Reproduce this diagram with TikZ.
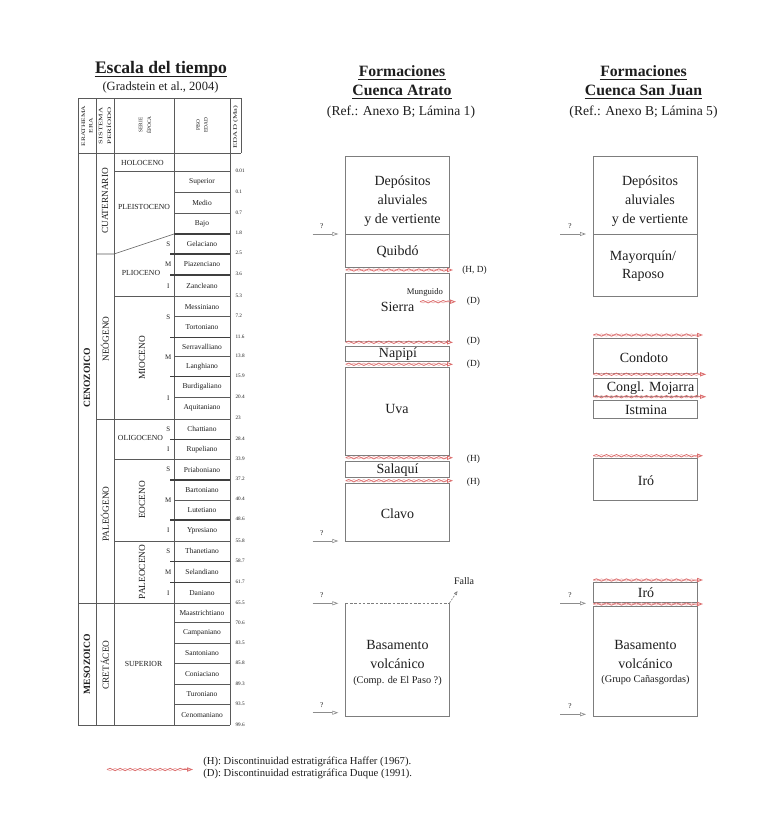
\documentclass[tikz,border=0pt]{standalone}
\usepackage{fontspec}
\setmainfont{Liberation Serif}
\usepackage{graphicx}
\usetikzlibrary{decorations.pathmorphing,arrows.meta}
\definecolor{txt}{RGB}{30,30,30}
\definecolor{tbl}{RGB}{90,90,90}
\definecolor{boxc}{RGB}{125,125,125}
\definecolor{wav}{RGB}{220,110,110}
\definecolor{wavl}{RGB}{238,180,180}
\definecolor{arr}{RGB}{140,140,140}
\begin{document}
\begin{tikzpicture}[x=0.75pt,y=-0.75pt,
 every node/.style={text=txt, inner sep=0pt},
 tl/.style={draw=tbl, line width=0.4pt},
 tk/.style={draw=tbl!70!black, line width=0.85pt},
 fb/.style={draw=boxc, line width=0.6pt},
 stg/.style={font=\fontsize{5.6}{6.5}\selectfont},
 smi/.style={font=\fontsize{5.2}{6}\selectfont},
 age/.style={font=\fontsize{3.9}{4.5}\selectfont, anchor=west},
 epo/.style={font=\fontsize{5.8}{7}\selectfont},
 epv/.style={font=\fontsize{7}{8}\selectfont, rotate=90},
 per/.style={font=\fontsize{7}{8}\selectfont, rotate=90},
 era/.style={font=\bfseries\fontsize{7.2}{8}\selectfont, rotate=90},
 hdr/.style={font=\fontsize{4}{4.6}\selectfont, rotate=90},
 fm/.style={font=\fontsize{10.5}{14.25}\selectfont, align=center},
 fms/.style={font=\fontsize{7.7}{9}\selectfont},
 ttl/.style={font=\bfseries\fontsize{13.2}{15}\selectfont, anchor=base},
 ttlb/.style={font=\bfseries\fontsize{11.8}{14}\selectfont, anchor=base},
 sub/.style={font=\fontsize{10.2}{12}\selectfont, anchor=base},
 lab/.style={font=\fontsize{7}{8}\selectfont, anchor=west},
 leg/.style={font=\fontsize{8}{9.5}\selectfont, anchor=base west},
 qm/.style={font=\fontsize{5.5}{6}\selectfont},
 qa/.style={draw=arr, line width=0.5pt, -{Triangle[open,length=4.5pt,width=3pt]}},
 wv/.style={draw=wav, line width=0.6pt, decorate, decoration={snake, amplitude=0.9pt, segment length=7.5pt, post length=4.5pt}, -{Triangle[open,length=4.5pt,width=3.2pt]}},
 wv2/.style={draw=wavl, line width=0.5pt, decorate, decoration={snake, amplitude=-0.9pt, segment length=7.5pt, post length=1pt}, shorten >=4.5pt},
]
\fill[white] (0,0) rectangle (764,831);
\useasboundingbox (0,0) rectangle (764,831);

% ---------- titles ----------
\node[ttl] (tEsc) at (161,73.3) {Escala del tiempo};
\node[sub, font=\fontsize{9.4}{11}\selectfont] (tGra) at (160.5,90.5) {(Gradstein et al., 2004)};
\node[ttlb] (tFA1) at (402,77) {Formaciones};
\node[ttlb] (tFA2) at (402,95.5) {Cuenca Atrato};
\node[sub] (tRA) at (401,115.5) {(Ref.: Anexo B; Lámina 1)};
\node[ttlb] (tFS1) at (643.5,77) {Formaciones};
\node[ttlb] (tFS2) at (643.5,95.5) {Cuenca San Juan};
\node[sub] (tRS) at (643.5,115.5) {(Ref.: Anexo B; Lámina 5)};
\foreach \t in {tEsc,tFA1,tFA2,tFS1,tFS2}
  \draw[txt, line width=0.8pt] ([yshift=-2.2pt]\t.base west) -- ([yshift=-2.2pt]\t.base east);

% ---------- time scale table ----------
\foreach \xx in {78,96,114,174,230} \draw[tl] (\xx,98.3) -- (\xx,725);
\draw[tl] (241,98.3) -- (241,153.3);
\draw[tl] (78,98.3) -- (241,98.3);
\draw[tl] (78,153.3) -- (241,153.3);
\draw[tl] (78,603.3) -- (230,603.3);
\draw[tl] (78,725) -- (230,725);
\draw[tl] (96,419.3) -- (230,419.3);
\draw[tl] (96,254) -- (114,254) -- (174,234);
\foreach \yy in {171.7,296.7,459.3,541} \draw[tl] (114,\yy) -- (230,\yy);
\foreach \yy in {192.7,213.3,316.7,356.7,397.3,500,622.7,643.3,663.3,684,704.3} \draw[tl] (174,\yy) -- (230,\yy);
\draw[tk] (174,234) -- (230,234);
\foreach \yy in {254,275,337.7,376.7,439.3,480,520,561.7,582.3} \draw[tk] (170,\yy) -- (230,\yy);

% header
\node[hdr] (hEra) at (87,126) {\scalebox{1.4}[1]{\shortstack{ERATHEMA\\ERA}}};
\node[hdr] (hSis) at (105,126) {\scalebox{1.6}[1]{\shortstack{SISTEMA\\PERÍODO}}};
\node[hdr] (hSer) at (145,125) {\shortstack{SERIE\\ÉPOCA}};
\node[hdr] (hPis) at (202,125) {\shortstack{PISO\\EDAD}};
\node[hdr] (hEda) at (235.5,127) {\scalebox{1.6}[1]{EDAD (Ma)}};

% eras, periods
\node[era] (eCen) at (87,378) {CENOZOICO};
\node[era] (eMes) at (87,664) {MESOZOICO};
\node[per] (pCua) at (105,201) {CUATERNARIO};
\node[per] (pNeo) at (105,339) {NEÓGENO};
\node[per] (pPal) at (105,514) {PALEÓGENO};
\node[per] (pCre) at (105,665) {CRETÁCEO};

% epochs
\node[epo] (sHol) at (142.5,162.5) {HOLOCENO};
\node[epo] (sPle) at (144,206.7) {PLEISTOCENO};
\node[epo] (sPli) at (141,273.3) {PLIOCENO};
\node[epv] (sMio) at (142,358) {MIOCENO};
\node[epo] (sOli) at (140.5,438) {OLIGOCENO};
\node[epv] (sEoc) at (142,500) {EOCENO};
\node[epv] (sPal) at (142,572) {PALEOCENO};
\node[epo] (sSup) at (143.5,663.5) {SUPERIOR};

% S/M/I
\foreach \l/\yy [count=\i] in {S/244,M/264.5,I/285.8,S/317,M/357,I/398,S/429.3,I/449.3,S/469.7,M/500,I/530.5,S/551.3,M/572,I/592.8}
  \node[smi] (smi\i) at (168.3,\yy) {\l};

% stages
\foreach \nm/\yy [count=\i] in {Superior/182.2,Medio/203,Bajo/223.7,Gelaciano/244,Piazenciano/264.5,Zancleano/285.8,Messiniano/306.7,Tortoniano/327.2,Serravalliano/347.2,Langhiano/366.7,Burdigaliano/387,Aquitaniano/408.3,Chattiano/429.3,Rupeliano/449.3,Priaboniano/469.7,Bartoniano/490,Lutetiano/510,Ypresiano/530.5,Thanetiano/551.3,Selandiano/572,Daniano/592.8,Maastrichtiano/613,Campaniano/633,Santoniano/653.3,Coniaciano/673.7,Turoniano/694.2,Cenomaniano/714.7}
  \node[stg] (st\i) at (202,\yy) {\nm};

% ages
\foreach \a/\yy [count=\i] in {0.01/170.5,0.1/192,0.7/212.5,1.8/232.5,2.5/252.5,3.6/274,5.3/296,7.2/316,11.6/337,13.8/356,15.9/376,20.4/396.5,23/418,28.4/438.5,33.9/458.5,37.2/479,40.4/499,48.6/519,55.8/540.5,58.7/561,61.7/581.5,65.5/602.5,70.6/622.5,83.5/643,85.8/663,89.3/683.5,93.5/703.5,99.6/724.5}
  \node[age] (ag\i) at (235.3,\yy) {\a};

% ---------- Cuenca Atrato ----------
\draw[fb] (345.7,156) rectangle (449,267.7);
\draw[fb] (345.7,234) -- (449,234);
\node[fm] (depA) at (402.5,201) {Depósitos\\aluviales\\y de vertiente};
\node[fm] (quib) at (397.5,251.5) {Quibdó};
\draw[fb] (345.7,273) rectangle (449,341);
\node[fm] (sierra) at (397.5,306.7) {Sierra};
\draw[fb] (345.7,346.7) rectangle (449,361.7);
\node[fm] (napi) at (398,354) {Napipí};
\draw[fb] (345.7,367.3) rectangle (449,455.7);
\node[fm] (uva) at (397,409.3) {Uva};
\draw[fb] (345.7,461.7) rectangle (449,477.7);
\node[fm] (sala) at (397.5,470) {Salaquí};
\draw[fb] (345.7,483.3) rectangle (449,541);
\node[fm] (clavo) at (397.5,513.3) {Clavo};
\draw[fb] (345.7,603.3) -- (345.7,716.7) -- (449,716.7) -- (449,603.3);
\draw[fb, dash pattern=on 2pt off 1.2pt] (345.7,603.3) -- (449,603.3);
\node[fm] (basA) at (397.5,654.5) {Basamento\\volcánico};
\node[fms] (basAs) at (397.5,681) {(Comp. de El Paso ?)};

% discontinuities Atrato
\foreach \yy [count=\i] in {270,342.3,364.3,457.7,480.7} {
  \coordinate (was\i) at (345.7,\yy);
  \coordinate (wae\i) at (453,\yy);
  \draw[wv2] (was\i) -- (wae\i);
  \draw[wv] (was\i) -- (wae\i);
}
\coordinate (wMs) at (420,301.7);
\coordinate (wMe) at (456,301.7);
\draw[wv2] (wMs) -- (wMe);
\draw[wv] (wMs) -- (wMe);
\node[font=\fontsize{6.5}{7}\selectfont] (mung) at (425,292.7) {Munguido};
\node[lab] (lA1) at (462,270) {(H, D)};
\node[lab] (lA2) at (466.7,301.7) {(D)};
\node[lab] (lA3) at (466.7,341.5) {(D)};
\node[lab] (lA4) at (466.7,364.3) {(D)};
\node[lab] (lA5) at (466.7,459) {(H)};
\node[lab] (lA6) at (466.7,482) {(H)};

% Falla
\node[font=\fontsize{7.5}{8}\selectfont] (falla) at (464,581) {Falla};
\coordinate (fs) at (449.5,603);
\coordinate (fe) at (457.5,591);
\draw[draw=boxc, line width=0.5pt, dash pattern=on 1.5pt off 1pt, -{Triangle[open,length=3pt,width=2.4pt]}] (fs) -- (fe);

% ? arrows Atrato
\foreach \yy [count=\i] in {234,541,603.3,712.7} {
  \coordinate (qas\i) at (312.7,\yy);
  \coordinate (qae\i) at (338.3,\yy);
  \draw[qa] (qas\i) -- (qae\i);
  \node[qm] (qA\i) at (321.7,\yy-8) {?};
}

% ---------- Cuenca San Juan ----------
\draw[fb] (593.3,156) rectangle (697.3,296.7);
\draw[fb] (593.3,234) -- (697.3,234);
\node[fm] (depS) at (650,201) {Depósitos\\aluviales\\y de vertiente};
\node[fm, font=\fontsize{10.5}{13.5}\selectfont] (mayo) at (643,266) {Mayorquín/\\Raposo};
\draw[fb] (593.3,338.3) rectangle (697.3,373.3);
\node[fm] (cond) at (644,357.5) {Condoto};
\draw[fb] (593.3,378.3) rectangle (697.3,396);
\node[fm] (moja) at (650.5,388) {Congl. Mojarra};
\draw[fb] (593.3,400) rectangle (697.3,418.3);
\node[fm] (istm) at (646,409.5) {Istmina};
\draw[fb] (593.3,458.3) rectangle (697.3,500);
\node[fm] (iro1) at (646,480.5) {Iró};
\draw[fb] (593.3,582.3) rectangle (697.3,602.3);
\node[fm] (iro2) at (646,593) {Iró};
\draw[fb] (593.3,606) rectangle (697.3,716.7);
\node[fm] (basS) at (645.5,654.5) {Basamento\\volcánico};
\node[fms] (basSs) at (645.5,680) {(Grupo Cañasgordas)};

\foreach \yy/\xe [count=\i] in {335/703,374.3/706,396.7/706,455.7/703,580/703,604/703} {
  \coordinate (wss\i) at (593.3,\yy);
  \coordinate (wse\i) at (\xe,\yy);
  \draw[wv2] (wss\i) -- (wse\i);
  \draw[wv] (wss\i) -- (wse\i);
}

\foreach \yy [count=\i] in {234,603.3,714.3} {
  \coordinate (qss\i) at (560,\yy);
  \coordinate (qse\i) at (586,\yy);
  \draw[qa] (qss\i) -- (qse\i);
  \node[qm] (qS\i) at (570,\yy-8) {?};
}

% ---------- legend ----------
\coordinate (ls) at (107,769.5);
\coordinate (le) at (193,769.5);
\draw[wv2] (ls) -- (le);
\draw[wv] (ls) -- (le);
\node[leg] (legH) at (203,764.5) {(H): Discontinuidad estratigráfica Haffer (1967).};
\node[leg] (legD) at (203,776) {(D): Discontinuidad estratigráfica Duque (1991).};
\end{tikzpicture}
\end{document}
